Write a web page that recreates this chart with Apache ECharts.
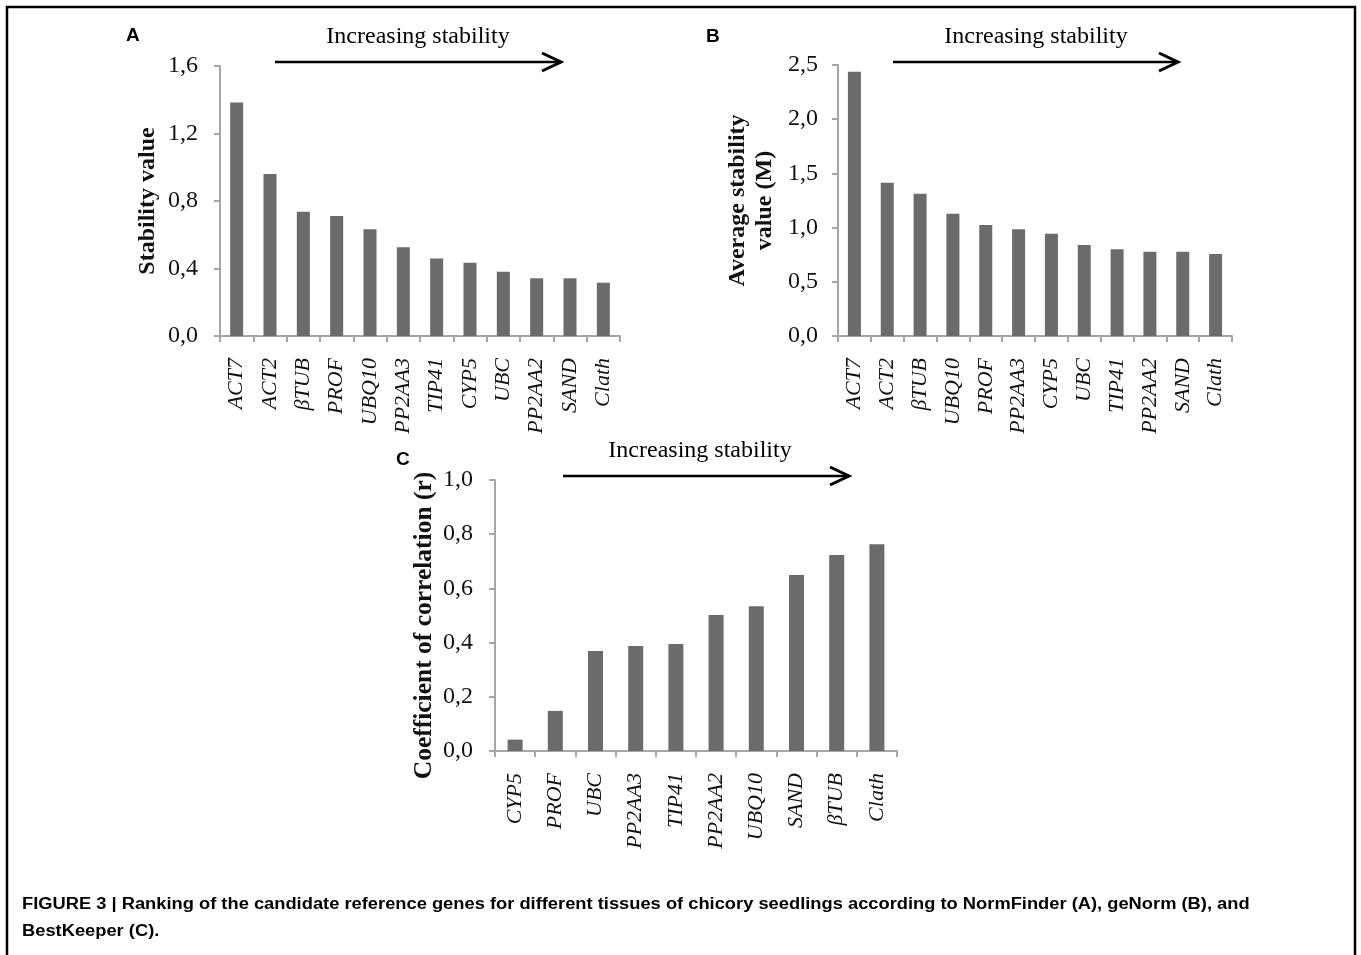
<!DOCTYPE html>
<html>
<head>
<meta charset="utf-8">
<script src="https://cdn.jsdelivr.net/npm/echarts@6/dist/echarts.min.js"></script>
<style>
html,body{margin:0;padding:0;background:#fff;}
#chart{width:1361px;height:955px;}
</style>
</head>
<body>
<div id="chart"></div>
<script>
// Panel A: NormFinder
const genesA = ['ACT7','ACT2','βTUB','PROF','UBQ10','PP2AA3','TIP41','CYP5','UBC','PP2AA2','SAND','Clath'];
const valuesA = [1.383,0.96,0.737,0.711,0.632,0.526,0.46,0.434,0.381,0.342,0.342,0.316];
// Panel B: geNorm
const genesB = ['ACT7','ACT2','βTUB','UBQ10','PROF','PP2AA3','CYP5','UBC','TIP41','PP2AA2','SAND','Clath'];
const valuesB = [2.438,1.414,1.313,1.128,1.024,0.984,0.944,0.839,0.80,0.778,0.778,0.756];
// Panel C: BestKeeper
const genesC = ['CYP5','PROF','UBC','PP2AA3','TIP41','PP2AA2','UBQ10','SAND','βTUB','Clath'];
const valuesC = [0.042,0.148,0.369,0.387,0.395,0.502,0.534,0.649,0.723,0.763];

const chart = echarts.init(document.getElementById('chart'));
const serif = '"Liberation Serif", "Times New Roman", serif';
const axisGray = '#a6a6a6';
const barColor = '#6b6b6b';
const fmt = v => v.toFixed(1).replace('.', ',');

function xAx(idx, cats){
  return {
    type:'category', gridIndex:idx, data:cats,
    axisLine:{lineStyle:{color:axisGray,width:2}},
    axisTick:{show:true,length:6,lineStyle:{color:axisGray,width:2}},
    axisLabel:{rotate:90,margin:22,fontFamily:serif,fontStyle:'italic',fontSize:22,color:'#111'}
  };
}
function yAx(idx, max, interval, name, gap, nameSize, labMargin, pad){
  return {
    type:'value', gridIndex:idx, min:0, max:max, interval:interval,
    name:name, nameLocation:'middle', nameGap:gap, nameRotate:90, nameMoveOverlap:false,
    nameTextStyle:{fontFamily:serif,fontWeight:'bold',fontSize:nameSize,color:'#111',lineHeight:27,padding:pad||0},
    axisLine:{show:true,lineStyle:{color:axisGray,width:2}},
    axisTick:{show:true,length:6,lineStyle:{color:axisGray,width:2}},
    splitLine:{show:false},
    axisLabel:{formatter:fmt,margin:labMargin,fontFamily:serif,fontSize:24,color:'#111'}
  };
}
function bar(idx, vals, w){
  return {type:'bar', xAxisIndex:idx, yAxisIndex:idx, data:vals, barWidth:w,
    itemStyle:{color:barColor}, animation:false};
}
function arrow(x1,x2,y){
  return [
    {type:'line',shape:{x1:x1,y1:y,x2:x2,y2:y},style:{stroke:'#000',lineWidth:2.5}},
    {type:'polyline',shape:{points:[[x2-19,y-9],[x2,y],[x2-19,y+9]]},style:{stroke:'#000',lineWidth:3,fill:null}}
  ];
}
function txt(x,y,text,font,align,sx){
  return {type:'text',x:x,y:y,scaleX:sx||1,style:{text:text,font:font,fill:'#000',align:align||'left',verticalAlign:'middle'}};
}
const capFont = 'bold 16px "Liberation Sans", Arial, sans-serif';
const letterFont = 'bold 19px "Liberation Sans", Arial, sans-serif';
const arrowFont = '24px "Liberation Serif", serif';

chart.setOption({
  animation:false,
  grid:[
    {left:220,top:66,width:400,height:270},
    {left:838,top:65,width:394,height:271},
    {left:495,top:480,width:402,height:271}
  ],
  xAxis:[xAx(0,genesA),xAx(1,genesB),xAx(2,genesC)],
  yAxis:[
    yAx(0,1.6,0.4,'Stability value',59,24,22),
    yAx(1,2.5,0.5,'Average stability\nvalue (M)',60,24,20),
    yAx(2,1.0,0.2,'Coefficient of correlation (r)',57,25.5,22,[0,20,0,0])
  ],
  series:[bar(0,valuesA,13),bar(1,valuesB,13),bar(2,valuesC,15)],
  graphic:[
    {type:'rect',shape:{x:7,y:7,width:1348,height:970},style:{stroke:'#000',lineWidth:2.5,fill:null}},
    txt(126,36,'A',letterFont),
    txt(706,37,'B',letterFont),
    txt(396,460,'C',letterFont),
    txt(418,37,'Increasing stability',arrowFont,'center'),
    txt(1036,37,'Increasing stability',arrowFont,'center'),
    txt(700,451,'Increasing stability',arrowFont,'center'),
    ...arrow(275,561,62),
    ...arrow(893,1178,62),
    ...arrow(563,849,476),
    txt(22,905,'FIGURE 3 | Ranking of the candidate reference genes for different tissues of chicory seedlings according to NormFinder (A), geNorm (B), and',capFont,'left',1.144),
    txt(22,932,'BestKeeper (C).',capFont,'left',1.144)
  ]
});
</script>
</body>
</html>
